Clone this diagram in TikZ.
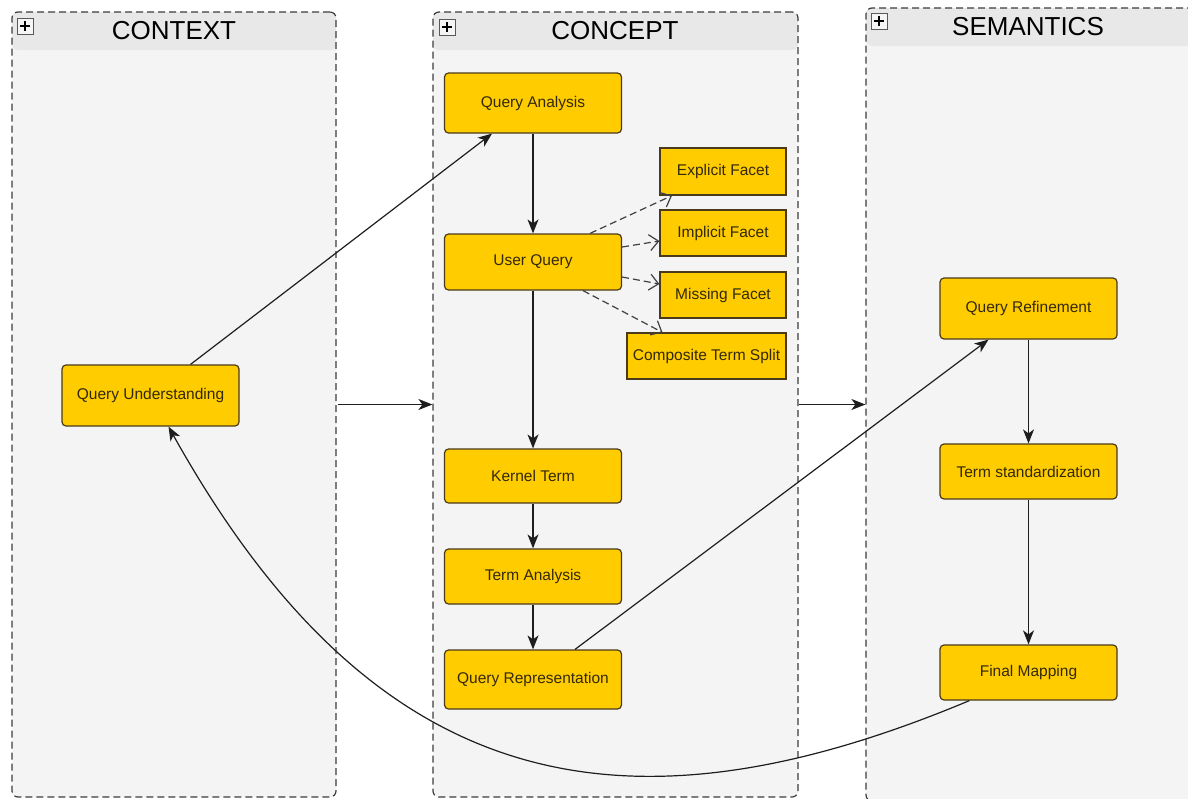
\documentclass[tikz,border=0pt]{standalone}
\usepackage{fontspec}
\setmainfont{Liberation Sans}
\usetikzlibrary{arrows.meta}
\definecolor{lanebody}{HTML}{F4F4F4}
\definecolor{lanehead}{HTML}{E8E8E8}
\definecolor{lanedraw}{HTML}{3C3C3C}
\definecolor{boxfill}{HTML}{FFCC00}
\definecolor{boxdraw}{HTML}{4A3A1A}
\definecolor{boxtext}{HTML}{33290A}
\definecolor{linecol}{HTML}{1E1E1E}
\begin{document}
\begin{tikzpicture}[x=1pt,y=-1pt,
  lane/.style={draw=lanedraw, line width=1.2pt, dash pattern=on 7pt off 4pt,
    fill=lanebody, rounded corners=6pt, inner sep=0pt,
    path picture={\fill[lanehead] (path picture bounding box.north west) rectangle ([yshift=-38pt]path picture bounding box.north east);}},
  lanetitle/.style={font=\fontsize{26}{30}\selectfont, text=black, inner sep=0pt},
  plusbox/.style={draw=gray!70!black, fill=gray!8, line width=0.8pt, minimum size=16pt, inner sep=0pt,
    path picture={\draw[line width=2pt, black] ([xshift=-5pt]path picture bounding box.center) -- ([xshift=5pt]path picture bounding box.center)
      ([yshift=-5pt]path picture bounding box.center) -- ([yshift=5pt]path picture bounding box.center);}},
  box/.style={draw=boxdraw, fill=boxfill, line width=1.2pt, rounded corners=4pt, text=boxtext,
    font=\fontsize{15.5}{18}\selectfont, inner sep=0pt, minimum width=177pt},
  facet/.style={draw=boxdraw, fill=boxfill, line width=1.2pt, text=boxtext,
    font=\fontsize{15.5}{18}\selectfont, inner sep=0pt, minimum height=46pt},
  conn/.style={draw=linecol, line width=1.2pt, -{Stealth[length=14pt,width=11pt,inset=4pt]}},
  dconn/.style={draw=linecol!85, line width=1.2pt, dash pattern=on 7pt off 4pt, -{Straight Barb[length=9pt,width=16pt]}}
]
\useasboundingbox (0,0) rectangle (1188,798);
\fill[white] (0,0) rectangle (1188,798);

% lanes
\node[lane, minimum width=324pt, minimum height=785pt] (ctx) at (174,404.5) {};
\node[lane, minimum width=365pt, minimum height=785pt] (cpt) at (615.5,404.5) {};
\node[lane, minimum width=334pt, minimum height=793pt] (sem) at (1033,404.5) {};
\node[lanetitle] (ctxt) at (174,31) {CONTEXT};
\node[lanetitle] (cptt) at (615,31) {CONCEPT};
\node[lanetitle] (semt) at (1028,27) {SEMANTICS};
\node[plusbox] (ctxp) at (25,26) {};
\node[plusbox] (cptp) at (447,27) {};
\node[plusbox] (semp) at (879,21) {};

% boxes
\node[box, minimum height=61pt] (qu) at (150.5,395.5) {Query Understanding};
\node[box, minimum height=60pt] (qa) at (533,103) {Query Analysis};
\node[box, minimum height=56pt] (uq) at (533,262) {User Query};
\node[box, minimum height=54pt] (kt) at (533,476) {Kernel Term};
\node[box, minimum height=55pt] (ta) at (533,576.5) {Term Analysis};
\node[box, minimum height=59pt] (qr) at (533,679.5) {Query Representation};
\node[facet, minimum width=126pt, minimum height=47pt] (ef) at (723,171.5) {Explicit Facet};
\node[facet, minimum width=126pt] (imf) at (723,233) {Implicit Facet};
\node[facet, minimum width=126pt] (mf) at (723,295) {Missing Facet};
\node[facet, minimum width=159pt] (cts) at (706.5,356) {Composite Term Split};
\node[box, minimum height=61pt] (qref) at (1028.5,308.5) {Query Refinement};
\node[box, minimum height=55pt] (ts) at (1028.5,471.5) {Term standardization};
\node[box, minimum height=55pt] (fm) at (1028.5,672.5) {Final Mapping};

% connectors
\draw[conn] ([xshift=40pt]qu.north) -- ([xshift=-41pt]qa.south);
\draw[conn] (qa.south) -- (uq.north);
\draw[conn] (uq.south) -- (kt.north);
\draw[conn] (kt.south) -- (ta.north);
\draw[conn] (ta.south) -- (qr.north);
\draw[conn] ([xshift=42pt]qr.north) -- ([xshift=-40pt]qref.south);
\draw[conn] (qref.south) -- (ts.north);
\draw[conn] (ts.south) -- (fm.north);
\draw[conn] ([xshift=30pt]fm.south west) .. controls (620,847) and (373,793) .. ([xshift=18pt]qu.south);
\draw[conn] ([xshift=1pt]ctx.east) -- (cpt.west);
\draw[conn] (cpt.east) -- (sem.west);

\draw[dconn] ([xshift=57pt]uq.north) -- ([xshift=-51pt]ef.south);
\draw[dconn] ([yshift=15pt]uq.east) -- ([yshift=-8pt]imf.west);
\draw[dconn] ([yshift=-15pt]uq.east) -- ([yshift=11pt]mf.west);
\draw[dconn] ([xshift=50pt]uq.south) -- ([xshift=-44pt]cts.north);
\end{tikzpicture}
\end{document}
